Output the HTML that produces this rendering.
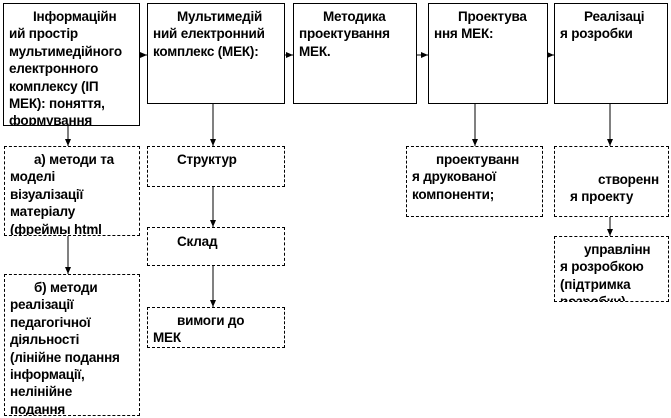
<!DOCTYPE html><html><head><meta charset="utf-8"><style>
body{margin:0;width:671px;height:418px;background:#fff;position:relative;overflow:hidden;font-family:"Liberation Sans",Arial,sans-serif;font-weight:bold;font-size:13.5px;letter-spacing:-0.2px;line-height:17.4px;color:#000}
.b{position:absolute;box-sizing:border-box;border:1px solid #000;padding:4px 4px 0 5px;overflow:hidden;white-space:nowrap}
.d{border:1px dashed #000}
.i{text-indent:24px}
</style></head><body>
<div class="b i" style="left:3px;top:3px;width:137px;height:123px">Інформаційн<br>ий простір<br>мультимедійного<br>електронного<br>комплексу (ІП<br>МЕК): поняття,<br>формування</div>
<div class="b i" style="left:147px;top:3px;width:138px;height:101px">Мультимедій<br>ний електронний<br>комплекс (МЕК):</div>
<div class="b i" style="left:293px;top:3px;width:124px;height:101px">Методика<br>проектування<br>МЕК.</div>
<div class="b i" style="left:428px;top:3px;width:120px;height:101px">Проектува<br>ння МЕК:</div>
<div class="b i" style="left:554px;top:3px;width:114px;height:101px">Реалізаці<br>я розробки</div>
<div class="b d i" style="left:4px;top:146px;width:136px;height:90px">а) методи та<br>моделі<br>візуалізації<br>матеріалу<br>(фреймы html</div>
<div class="b d i" style="left:147px;top:146px;width:138px;height:41px">Структур</div>
<div class="b d i" style="left:147px;top:227px;width:138px;height:39px;padding-top:5px">Склад</div>
<div class="b d i" style="left:147px;top:307px;width:138px;height:41px">вимоги до<br>МЕК</div>
<div class="b d i" style="left:4px;top:274px;width:136px;height:142px">б) методи<br>реалізації<br>педагогічної<br>діяльності<br>(лінійне подання<br>інформації,<br>нелінійне<br>подання</div>
<div class="b d i" style="left:406px;top:146px;width:137px;height:71px">проектуванн<br>я друкованої<br>компоненти;</div>
<div class="b d" style="left:554px;top:146px;width:115px;height:71px;padding-top:24px"><span style="padding-left:38px">створенн</span><br><span style="padding-left:10px">я проекту</span></div>
<div class="b d i" style="left:554px;top:236px;width:115px;height:66px">управлінн<br>я розробкою<br>(підтримка<br>розробки)</div>
<svg width="671" height="418" style="position:absolute;left:0;top:0">
<defs><marker id="a" markerWidth="8" markerHeight="8" refX="7" refY="4" orient="auto" markerUnits="userSpaceOnUse"><path d="M0,1L7,4L0,7z"/></marker></defs>
<g stroke="#000" stroke-width="1" marker-end="url(#a)">
<line x1="140" y1="55" x2="147" y2="55"/><line x1="285" y1="55" x2="293" y2="55"/><line x1="417" y1="55" x2="428" y2="55"/><line x1="548" y1="55" x2="554" y2="55"/>
<line x1="68" y1="126" x2="68" y2="146"/><line x1="68" y1="236" x2="68" y2="274"/>
<line x1="213" y1="104" x2="213" y2="146"/><line x1="213" y1="187" x2="213" y2="227"/><line x1="213" y1="266" x2="213" y2="307"/>
<line x1="475" y1="104" x2="475" y2="146"/><line x1="610" y1="104" x2="610" y2="146"/><line x1="610" y1="217" x2="610" y2="236"/>
</g></svg>
</body></html>
